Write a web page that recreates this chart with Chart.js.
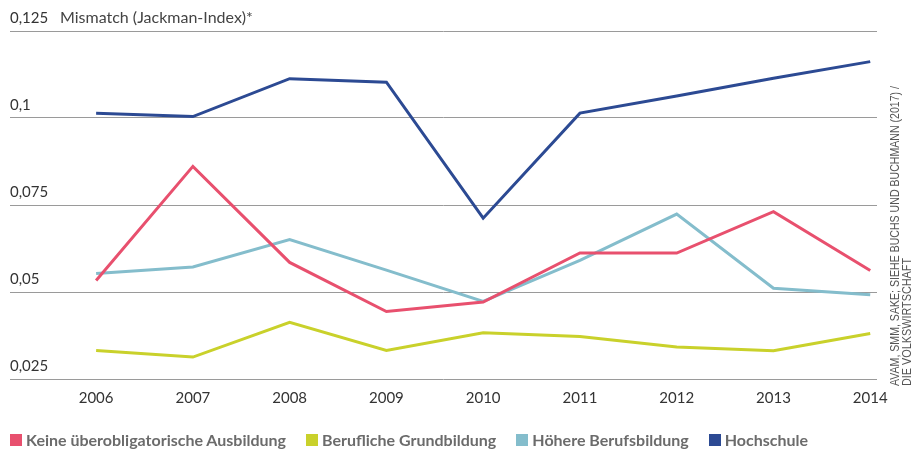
<!DOCTYPE html>
<html>
<head>
<meta charset="utf-8">
<script src="https://cdn.jsdelivr.net/npm/chart.js@4.4.1/dist/chart.umd.min.js"></script>
<style>
  html, body { margin: 0; padding: 0; background: #fff; }
  #wrap { position: relative; width: 915px; height: 452px; }
  #legend { position: absolute; left: 10px; top: 430px; display: flex; font: bold 16px Lato, "Open Sans", sans-serif; color: #6b6b6b; }
  #legend .item { display: flex; align-items: center; margin-right: 20px; }
  #legend .box { width: 12px; height: 12px; margin-right: 4px; }
</style>
</head>
<body>
<div id="wrap">
  <canvas id="chart" width="915" height="452"></canvas>
  <div id="legend"></div>
</div>
<script>
const YEARS = [2006, 2007, 2008, 2009, 2010, 2011, 2012, 2013, 2014];
const Y_TICKS = [0.025, 0.05, 0.075, 0.1, 0.125];
const Y_TICK_LABELS = ['0,025', '0,05', '0,075', '0,1', '0,125'];
const SERIES_NAMES = ['Keine überobligatorische Ausbildung', 'Berufliche Grundbildung', 'Höhere Berufsbildung', 'Hochschule'];
const SERIES_COLORS = ['#e8506e', '#c9d12b', '#84bdcc', '#2c4a93'];

const keine      = [0.0533, 0.0861, 0.0585, 0.0444, 0.0471, 0.0612, 0.0612, 0.0731, 0.0562];
const beruflich  = [0.0332, 0.0313, 0.0413, 0.0332, 0.0383, 0.0372, 0.0342, 0.0331, 0.0381];
const hoehere    = [0.0553, 0.0572, 0.0651, 0.0563, 0.0473, 0.0591, 0.0724, 0.0511, 0.0492];
const hochschule = [0.1014, 0.1004, 0.1113, 0.1103, 0.0712, 0.1014, 0.1063, 0.1114, 0.1162];

const TITLE = 'Mismatch (Jackman-Index)*';
const SOURCE_LINES = ['AVAM, SMM, SAKE; SIEHE BUCHS UND BUCHMANN (2017) /', 'DIE VOLKSWIRTSCHAFT'];

const FONT = 'Lato, "Open Sans", sans-serif';

const seriesData = [keine, beruflich, hoehere, hochschule];

// title next to the top tick label, source note rotated on the right
const extrasPlugin = {
  id: 'extras',
  afterDraw(chart) {
    const ctx = chart.ctx;
    const y = chart.scales.y;
    ctx.save();
    ctx.fillStyle = '#444';
    ctx.font = '16px ' + FONT;
    ctx.textBaseline = 'middle';
    ctx.textAlign = 'left';
    ctx.fillText(TITLE, 60, y.getPixelForValue(0.125) - 13);

    ctx.fillStyle = '#555';
    ctx.font = '12.5px "Liberation Sans Narrow", "Liberation Sans", sans-serif';
    ctx.textBaseline = 'alphabetic';
    const lens = [300, 128];
    [899, 911].forEach((x, i) => {
      ctx.save();
      ctx.translate(x, 386);
      ctx.rotate(-Math.PI / 2);
      ctx.fillText(SOURCE_LINES[i], 0, 0, lens[i]);
      ctx.restore();
    });
    ctx.restore();
  }
};

document.getElementById('legend').innerHTML = SERIES_NAMES.map((name, i) => `
  <div class="item"><span class="box" style="background:${SERIES_COLORS[i]}"></span>${name}</div>
`).join('');

new Chart(document.getElementById('chart'), {
  type: 'line',
  data: {
    datasets: SERIES_NAMES.map((name, i) => ({
      label: name,
      data: seriesData[i].map((v, j) => ({ x: YEARS[j], y: v })),
      borderColor: SERIES_COLORS[i],
      backgroundColor: SERIES_COLORS[i],
      borderWidth: 3,
      pointRadius: 0,
      tension: 0,
      fill: false,
    })),
  },
  options: {
    responsive: false,
    animation: false,
    layout: { padding: { left: 0, right: 38, top: 31, bottom: 43 } },
    plugins: {
      tooltip: { enabled: false },
      legend: { display: false },
    },
    scales: {
      x: {
        type: 'linear',
        min: 2005.11,
        max: 2014.07,
        afterBuildTicks: s => { s.ticks = YEARS.map(v => ({ value: v })); },
        grid: { display: false },
        border: { display: false },
        ticks: {
          color: '#333',
          padding: 2,
          autoSkip: false,
          maxRotation: 0,
          font: { family: FONT, size: 15 },
          callback: v => String(v),
        },
      },
      y: {
        min: 0.025,
        max: 0.125,
        afterBuildTicks: s => { s.ticks = Y_TICKS.map(v => ({ value: v })); },
        afterFit: s => { s.width = 10; },
        grid: { color: '#9a9a9a', lineWidth: 1, drawTicks: false },
        border: { display: false },
        ticks: {
          mirror: true,
          padding: 0,
          labelOffset: -13,
          color: '#333',
          font: { family: FONT, size: 15 },
          callback: v => Y_TICK_LABELS[Y_TICKS.findIndex(t => Math.abs(t - v) < 1e-9)],
        },
      },
    },
  },
  plugins: [extrasPlugin],
});
</script>
</body>
</html>
